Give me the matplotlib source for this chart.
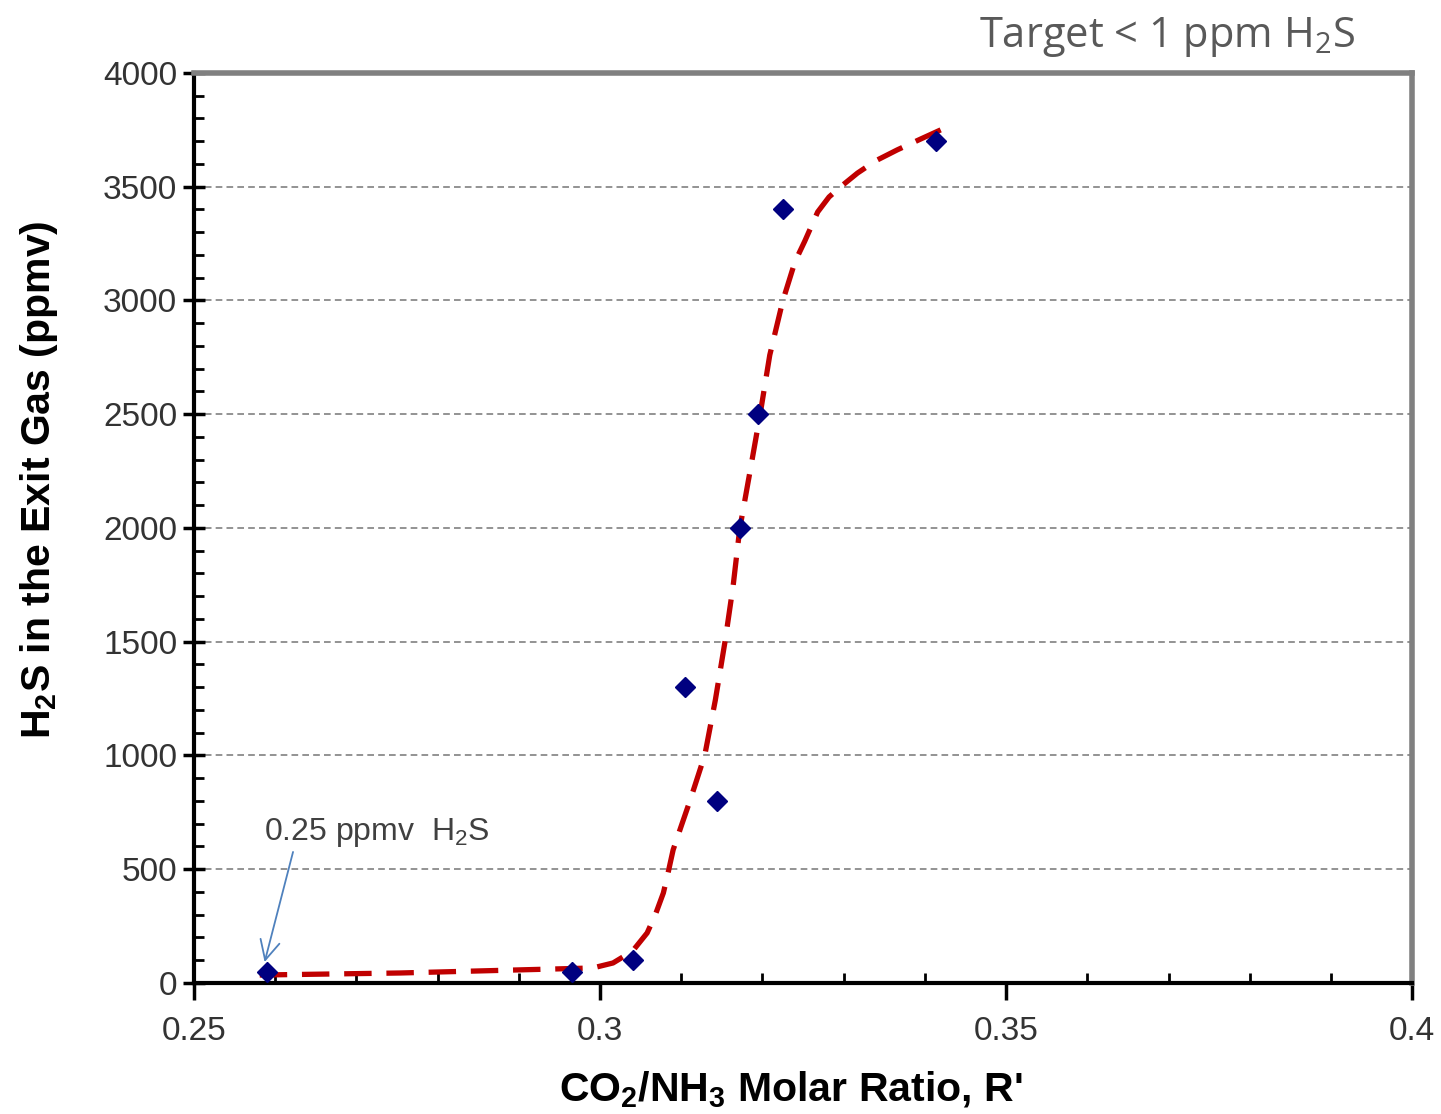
import matplotlib
matplotlib.use("Agg")
import matplotlib.pyplot as plt
from matplotlib.ticker import MultipleLocator

# measured points
ratio = [0.259, 0.2966, 0.304, 0.3105, 0.3144, 0.3172, 0.3195, 0.3225, 0.3414]
h2s = [50, 50, 100, 1300, 800, 2000, 2500, 3400, 3700]

# trend line
trend_x = [0.2581, 0.2754, 0.2991, 0.3016, 0.3040, 0.3058, 0.3068, 0.3078, 0.3084,
           0.3090, 0.3100, 0.3111, 0.3119, 0.3129, 0.3142, 0.3154, 0.3164, 0.3172,
           0.3185, 0.3197, 0.3209, 0.3225, 0.3240, 0.3252, 0.3268, 0.3282, 0.3296,
           0.3317, 0.3340, 0.3366, 0.3395, 0.3422]
trend_y = [35, 44, 66, 88, 140, 220, 299, 396, 488,
           585, 690, 804, 892, 1002, 1244, 1503, 1749, 1996,
           2255, 2497, 2760, 2998, 3170, 3260, 3389, 3455, 3499,
           3560, 3615, 3662, 3710, 3754]

plt.rcParams['font.family'] = ['Liberation Sans', 'DejaVu Sans']
plt.rcParams['mathtext.fontset'] = 'custom'
plt.rcParams['mathtext.rm'] = 'Liberation Sans'
plt.rcParams['mathtext.bf'] = 'Liberation Sans:bold'
plt.rcParams['mathtext.sf'] = 'Open Sans'
plt.rcParams['mathtext.default'] = 'rm'


def plot():
    fig = plt.figure(figsize=(14.41, 11.14), dpi=100)
    ax = fig.add_axes([0.1346, 0.1176, 0.8454, 0.8169])

    ax.plot(trend_x, trend_y, color='#c00000', lw=3.8, dashes=(5.2, 2.8), zorder=3)
    ax.plot(ratio, h2s, 'D', color='#000080', markersize=10.5, zorder=4)

    ax.set_xlim(0.25, 0.4)
    ax.set_ylim(0, 4000)
    ax.xaxis.set_major_locator(MultipleLocator(0.05))
    ax.xaxis.set_minor_locator(MultipleLocator(0.01))
    ax.yaxis.set_major_locator(MultipleLocator(500))
    ax.yaxis.set_minor_locator(MultipleLocator(100))
    ax.set_xticks([0.25, 0.3, 0.35, 0.4])
    ax.set_xticklabels(['0.25', '0.3', '0.35', '0.4'])

    for y in range(500, 4000, 500):
        ax.axhline(y, color='#808080', lw=1.2, dashes=(4, 2.5), zorder=1)

    ax.tick_params(axis='x', which='major', direction='out', length=12, width=2.5,
                   labelsize=24, labelcolor='#333333', pad=12)
    ax.tick_params(axis='x', which='minor', direction='in', length=7, width=2)
    ax.tick_params(axis='y', which='major', direction='inout', length=16, width=2.5,
                   labelsize=24, labelcolor='#333333', pad=4)
    ax.tick_params(axis='y', which='minor', direction='in', length=7, width=2)

    for s in ['left', 'bottom']:
        ax.spines[s].set_linewidth(3)
        ax.spines[s].set_color('black')
    for s in ['top', 'right']:
        ax.spines[s].set_linewidth(4)
        ax.spines[s].set_color('#808080')

    ax.set_xlabel(r"CO$_\mathbf{2}$/NH$_\mathbf{3}$ Molar Ratio, R'", fontsize=29.5,
                  fontweight='bold')
    ax.xaxis.set_label_coords(0.49, -0.095)
    ax.set_ylabel(r"H$_\mathbf{2}$S in the Exit Gas (ppmv)", fontsize=29.5,
                  fontweight='bold')
    ax.yaxis.set_label_coords(-0.110, 0.553)

    ax.text(0.2586, 660, r"0.25 ppmv  H$_2$S", fontsize=23, color='#404040', va='center')
    ax.annotate("", xy=(0.2587, 92), xytext=(0.2622, 576),
                arrowprops=dict(arrowstyle='->', color='#4f81bd', lw=1.3,
                                mutation_scale=35, shrinkA=0, shrinkB=0))

    fig.text(0.94, 0.967, r"Target < 1 ppm H$_\mathsf{2}$S", fontsize=30, color='#595959',
             family=['Open Sans', 'DejaVu Sans'], ha='right', va='center')

    plt.savefig("out.png", dpi=100)


if __name__ == "__main__":
    plot()
